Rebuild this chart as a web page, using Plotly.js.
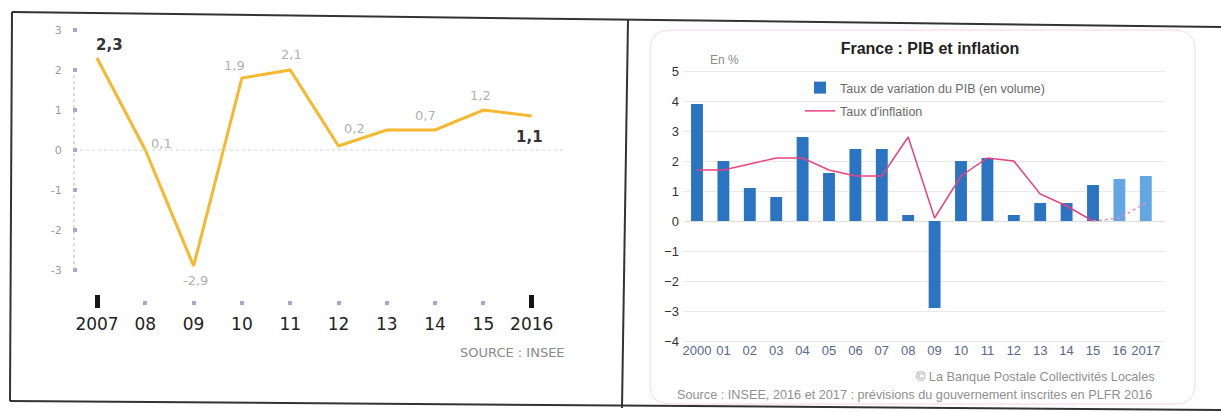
<!DOCTYPE html>
<html>
<head>
<meta charset="utf-8">
<script src="https://cdn.plot.ly/plotly-3.0.1.min.js"></script>
<style>html,body{margin:0;padding:0;background:#fff;}#chart{width:1221px;height:412px;}</style>
</head>
<body>
<div id="chart"></div>
<script>
// ---------- Left chart: PIB France 2007-2016 ----------
const leftYears = ['2007', '08', '09', '10', '11', '12', '13', '14', '15', '2016'];
const leftValues = [2.3, 0.0, -2.9, 1.8, 2.0, 0.1, 0.5, 0.5, 1.0, 0.85];
const leftLabels = ['2,3', '0,1', '-2,9', '1,9', '2,1', '0,2', '', '0,7', '1,2', '1,1'];
const leftBold = [true, false, false, false, false, false, false, false, false, true];
const leftYTicks = [-3, -2, -1, 0, 1, 2, 3];
const leftYTickText = ['-3', '-2', '-1', '0', '1', '2', '3'];
const leftMarkedYears = ['2007', '2016'];

// ---------- Right chart: France : PIB et inflation ----------
const rightYears = ['2000', '01', '02', '03', '04', '05', '06', '07', '08', '09', '10', '11', '12', '13', '14', '15', '16', '2017'];
const gdpGrowth = [3.9, 2.0, 1.1, 0.8, 2.8, 1.6, 2.4, 2.4, 0.2, -2.9, 2.0, 2.1, 0.2, 0.6, 0.6, 1.2, 1.4, 1.5];
const inflation = [1.7, 1.7, 1.9, 2.1, 2.1, 1.7, 1.5, 1.5, 2.8, 0.1, 1.5, 2.1, 2.0, 0.9, 0.5, 0.0, 0.1, 0.6];
const forecastYears = ['16', '2017'];
const rightYTicks = [-4, -3, -2, -1, 0, 1, 2, 3, 4, 5];

// ---------- helpers (pixel -> paper) ----------
const W = 1221, H = 412;
const X = px => px / W;
const Y = py => 1 - py / H;

// left scale: category i at 97 + 48.3*i px ; value 0 at 150px, 40 px/unit
const lx0 = 78, lx1 = 572, lStep = 48.3, lOrigin = 97;
const ly0 = 25, ly1 = 285, lZero = 150, lUnit = 40;
// right scale
const rx0 = 684, rx1 = 1165, rStep = 26.4, rOrigin = 697;
const ry0 = 62, ry1 = 344, rZero = 221, rUnit = 30;

const leftIdx = leftYears.map((_, i) => i);

// label offsets (style, px)
const labelOffsets = [[12, 13], [16, 7], [2, -14], [-7, 12], [1, 15], [16, 18], [0, 0], [-10, 15], [-3, 14], [-2, -21]];

const traces = [
  {
    type: 'scatter', mode: 'lines', x: leftIdx, y: leftValues,
    xaxis: 'x', yaxis: 'y', showlegend: false, hoverinfo: 'skip',
    line: {color: '#f5b82e', width: 3}
  },
  { // carrier for overlay axis (black year markers)
    type: 'scatter', mode: 'lines', x: [], y: [], xaxis: 'x3', yaxis: 'y', showlegend: false
  },
  {
    type: 'bar', name: 'Taux de variation du PIB (en volume)', legendgroup: 'a',
    x: rightYears, y: gdpGrowth, xaxis: 'x2', yaxis: 'y2', width: 0.45,
    marker: {color: rightYears.map(y => forecastYears.includes(y) ? '#62a6e4' : '#2b74c2')}
  },
  {
    type: 'scatter', mode: 'lines', name: "Taux d'inflation", legendgroup: 'b',
    x: rightYears.slice(0, 16), y: inflation.slice(0, 16), xaxis: 'x2', yaxis: 'y2',
    line: {color: '#e8437b', width: 1.5}
  },
  {
    type: 'scatter', mode: 'lines', showlegend: false, legendgroup: 'b',
    x: rightYears.slice(15), y: inflation.slice(15), xaxis: 'x2', yaxis: 'y2',
    line: {color: '#f08fb0', width: 1.5, dash: 'dot'}
  }
];

const annotations = [];
leftLabels.forEach((t, i) => {
  if (!t) return;
  annotations.push({
    xref: 'x', yref: 'y', x: leftIdx[i], y: leftValues[i], text: t, showarrow: false,
    xshift: labelOffsets[i][0], yshift: labelOffsets[i][1],
    font: leftBold[i] ? {family: 'DejaVu Sans', size: 15, color: '#333', weight: 'bold'}
                      : {family: 'DejaVu Sans', size: 13, color: '#b0b0b0'}
  });
});
annotations.push(
  {xref: 'paper', yref: 'paper', x: X(512), y: Y(352), text: 'SOURCE : INSEE', showarrow: false,
   xanchor: 'center', yanchor: 'middle', font: {family: 'DejaVu Sans', size: 13, color: '#8a8a8a'}},
  {xref: 'paper', yref: 'paper', x: X(708), y: Y(60), text: 'En %', showarrow: false,
   xanchor: 'left', yanchor: 'middle', font: {family: 'Liberation Sans', size: 12, color: '#8a8a8a'}},
  {xref: 'paper', yref: 'paper', x: X(1157), y: Y(377), text: '© La Banque Postale Collectivités Locales', showarrow: false,
   xanchor: 'right', yanchor: 'middle', font: {family: 'Liberation Sans', size: 12.7, color: '#8f8f8f'}},
  {xref: 'paper', yref: 'paper', x: X(675), y: Y(395), text: 'Source : INSEE, 2016 et 2017 : prévisions du gouvernement inscrites en PLFR 2016', showarrow: false,
   xanchor: 'left', yanchor: 'middle', font: {family: 'Liberation Sans', size: 12.7, color: '#8f8f8f'}}
);

const frame = {color: '#333', width: 2};
const shapes = [
  // scan frame
  {type: 'line', xref: 'paper', yref: 'paper', x0: X(12), y0: Y(12), x1: X(1221), y1: Y(27), line: frame},
  {type: 'line', xref: 'paper', yref: 'paper', x0: X(12), y0: Y(12), x1: X(10), y1: Y(401), line: frame},
  {type: 'line', xref: 'paper', yref: 'paper', x0: X(10), y0: Y(401), x1: X(1221), y1: Y(410), line: frame},
  {type: 'line', xref: 'paper', yref: 'paper', x0: X(628), y0: Y(20), x1: X(622), y1: Y(408), line: frame},
  // pink rounded border of right chart
  {type: 'path', xref: 'paper', yref: 'paper', line: {color: '#f7d7e1', width: 1},
   path: `M ${X(670)} ${Y(30)} L ${X(1175)} ${Y(30)} Q ${X(1195)} ${Y(30)} ${X(1195)} ${Y(50)} L ${X(1195)} ${Y(385)} Q ${X(1195)} ${Y(404)} ${X(1175)} ${Y(404)} L ${X(670)} ${Y(404)} Q ${X(650)} ${Y(404)} ${X(650)} ${Y(385)} L ${X(650)} ${Y(50)} Q ${X(650)} ${Y(30)} ${X(670)} ${Y(30)} Z`},
  // left chart: dotted y guide and zero line
  {type: 'line', xref: 'paper', yref: 'y', x0: X(74), x1: X(74), y0: -3, y1: 2, line: {color: '#b8b8b8', width: 1, dash: 'dot'}},
  {type: 'line', xref: 'paper', yref: 'y', x0: X(80), x1: X(565), y0: 0, y1: 0, line: {color: '#e2e2e2', width: 1.5, dash: 'dot'}}
];

const leftXRange = [(lx0 - lOrigin) / lStep, (lx1 - lOrigin) / lStep];

const layout = {
  width: W, height: H,
  margin: {l: 0, r: 0, t: 0, b: 0, pad: 0},
  paper_bgcolor: '#ffffff', plot_bgcolor: 'rgba(0,0,0,0)',
  font: {family: 'Liberation Sans', color: '#333'},
  title: {text: '<b>France : PIB et inflation</b>', x: X(930), y: Y(48), xanchor: 'center', yanchor: 'middle',
          font: {family: 'Liberation Sans', size: 16, color: '#222'}},
  showlegend: true,
  legend: {x: X(800), y: Y(73), xanchor: 'left', yanchor: 'top', bgcolor: 'rgba(0,0,0,0)',
           font: {family: 'Liberation Sans', size: 12.5, color: '#6a6a6a'}, itemwidth: 30, tracegroupgap: 4},
  xaxis: {
    domain: [X(lx0), X(lx1)], range: leftXRange, type: 'linear',
    tickvals: leftIdx, ticktext: leftYears, anchor: 'free', position: Y(300),
    ticks: 'outside', ticklen: 4, tickwidth: 4, tickcolor: '#a3aacb',
    showline: false, showgrid: false, zeroline: false, ticklabelstandoff: 5,
    tickfont: {family: 'DejaVu Sans', size: 17, color: '#222'}
  },
  xaxis3: {
    overlaying: 'x', range: leftXRange, type: 'linear', anchor: 'free', position: Y(294),
    tickvals: leftMarkedYears.map(y => leftYears.indexOf(y)), showticklabels: false,
    ticks: 'outside', ticklen: 13, tickwidth: 5, tickcolor: '#151515',
    showline: false, showgrid: false, zeroline: false
  },
  yaxis: {
    domain: [Y(ly1), Y(ly0)], range: [(lZero - ly1) / lUnit, (lZero - ly0) / lUnit],
    anchor: 'x', tickvals: leftYTicks, ticktext: leftYTickText,
    ticks: 'outside', ticklen: 4, tickwidth: 4, tickcolor: '#a3aacb', ticklabelstandoff: 9,
    showline: false, showgrid: false, zeroline: false,
    tickfont: {family: 'DejaVu Sans', size: 11, color: '#9a9a9a'}
  },
  xaxis2: {
    domain: [X(rx0), X(rx1)], range: [(rx0 - rOrigin) / rStep, (rx1 - rOrigin) / rStep],
    type: 'category', anchor: 'y2', showline: false, showgrid: false, zeroline: false, ticks: '',
    ticklabelstandoff: -3,
    tickfont: {family: 'Liberation Sans', size: 13, color: '#55688f'}
  },
  yaxis2: {
    domain: [Y(ry1), Y(ry0)], range: [(rZero - ry1) / rUnit, (rZero - ry0) / rUnit],
    anchor: 'x2', tickvals: rightYTicks, ticks: '', showline: false, ticklabelstandoff: 4,
    showgrid: true, gridcolor: '#e9e9e9', gridwidth: 1, zeroline: true, zerolinecolor: '#dedede', zerolinewidth: 1,
    tickfont: {family: 'Liberation Sans', size: 13, color: '#333'}
  },
  annotations: annotations,
  shapes: shapes
};

Plotly.newPlot('chart', traces, layout, {displayModeBar: false, staticPlot: true});
</script>
</body>
</html>
